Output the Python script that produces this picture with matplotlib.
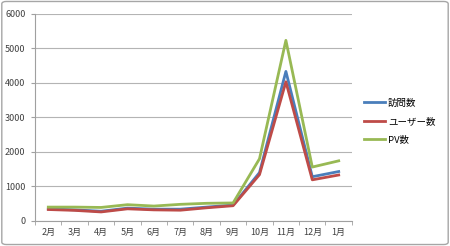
import matplotlib.pyplot as plt
from matplotlib.patches import FancyBboxPatch

plt.rcParams['font.family'] = ['Noto Sans CJK JP', 'DejaVu Sans']

months = ['2月', '3月', '4月', '5月', '6月', '7月', '8月', '9月', '10月', '11月', '12月', '1月']
visits = [350, 320, 280, 370, 340, 340, 400, 460, 1400, 4330, 1280, 1430]
users = [330, 305, 260, 350, 320, 310, 380, 440, 1340, 4030, 1190, 1330]
pv = [400, 400, 390, 470, 430, 480, 510, 520, 1800, 5230, 1560, 1740]

fig = plt.figure(figsize=(4.5, 2.46), dpi=100)
# 外枠
fig.patches.append(FancyBboxPatch((0.004, 0.006), 0.992, 0.988, boxstyle='round,pad=0,rounding_size=0.01',
                                  transform=fig.transFigure, fill=False, edgecolor='#a6a6a6', linewidth=1,
                                  zorder=-1))
ax = fig.add_axes([0.078, 0.102, 0.704, 0.842])

x = range(len(months))
ax.plot(x, visits, color='#4a7ebb', linewidth=2, label='訪問数')
ax.plot(x, users, color='#be4b48', linewidth=2, label='ユーザー数')
ax.plot(x, pv, color='#98b954', linewidth=2, label='PV数')

ax.set_xlim(-0.5, len(months) - 0.5)
ax.set_yticks([0, 1000, 2000, 3000, 4000, 5000, 6000])
ax.set_ylim(0, 6000)
ax.set_xticks(list(x))
ax.set_xticklabels(months)
ax.set_xticks([i - 0.5 for i in range(len(months) + 1)], minor=True)
ax.tick_params(axis='x', which='major', length=0, labelsize=6.5, pad=5, colors='#404040')
ax.tick_params(axis='x', which='minor', length=3, color='#a0a0a0')
ax.tick_params(axis='y', length=3, labelsize=6.5, pad=4, color='#a0a0a0', labelcolor='#404040')
ax.yaxis.grid(True, color='#b4b4b4', linewidth=0.8)
ax.set_axisbelow(True)
for s in ['top', 'right']:
    ax.spines[s].set_visible(False)
ax.spines['left'].set_color('#a0a0a0')
ax.spines['bottom'].set_color('#a0a0a0')

ax.legend(loc='center left', bbox_to_anchor=(1.01, 0.48), frameon=False, fontsize=6.8,
          handlelength=2.3, handletextpad=0.3, labelspacing=1.0)

fig.savefig('out.png', dpi=100)
